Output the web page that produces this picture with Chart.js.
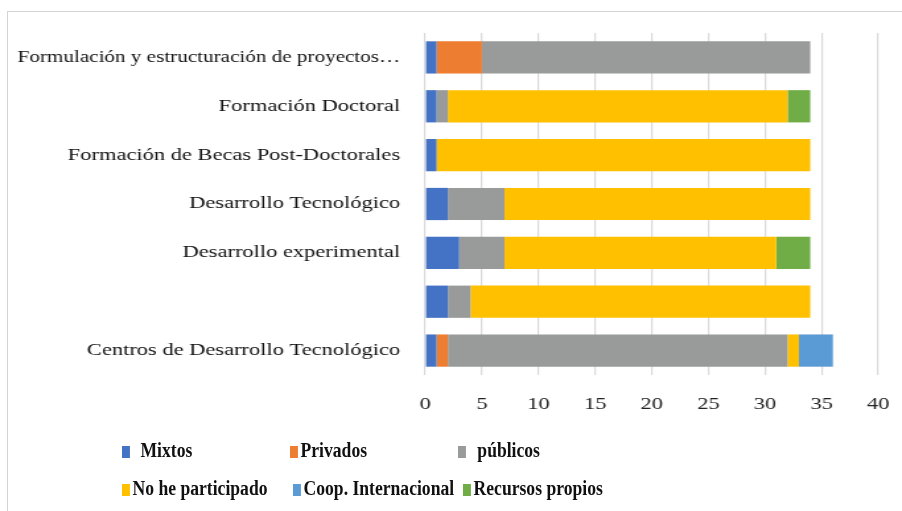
<!DOCTYPE html>
<html>
<head>
<meta charset="utf-8">
<script src="https://cdn.jsdelivr.net/npm/chart.js@4.4.0/dist/chart.umd.min.js"></script>
<style>
  html, body { margin: 0; padding: 0; background: #fff; }
  #wrap { position: relative; width: 902px; height: 511px; overflow: hidden; }
  #frame { position: absolute; left: 7px; top: 11px; width: 1000px; height: 600px; border: 1px solid #d4d4d4; box-sizing: border-box; }
  /* the original's axis text is drawn wide, so the canvas is stretched sideways */
  canvas { position: absolute; left: 0; top: 0; transform-origin: 0 0; transform: scaleX(1.3206); }
  /* legend text in the original is tall and narrow */
  .lg { position: absolute; font: bold 20px "Liberation Serif", "Times New Roman", serif; color: #111; white-space: nowrap; line-height: 22px; transform-origin: 0 50%; transform: scaleX(0.88); }
  .lg i { display: inline-block; width: 9px; height: 12px; margin-right: 3px; vertical-align: -1px; }
</style>
</head>
<body>
<div id="wrap">
  <div id="frame"></div>
  <canvas id="c" width="683" height="511"></canvas>
  <div id="legend"></div>
</div>
<script>
const categories = [
  'Formulación y estructuración de proyectos…',
  'Formación Doctoral',
  'Formación de Becas Post-Doctorales',
  'Desarrollo Tecnológico',
  'Desarrollo experimental',
  '',
  'Centros de Desarrollo Tecnológico'
];
const seriesNames = ['Mixtos', 'Privados', 'públicos', 'No he participado', 'Coop. Internacional', 'Recursos propios'];
const seriesColors = ['#4472C4', '#ED7D31', '#999B9B', '#FFC000', '#5B9BD5', '#70AD47'];

const mixtos        = [1, 1, 1, 2, 3, 2, 1];
const privados      = [4, 0, 0, 0, 0, 0, 1];
const publicos      = [29, 1, 0, 5, 4, 2, 30];
const noParticipado = [0, 30, 33, 27, 24, 30, 1];
const coopIntl      = [0, 0, 0, 0, 0, 0, 3];
const recursos      = [0, 2, 0, 0, 3, 0, 0];

const xTicks = [0, 5, 10, 15, 20, 25, 30, 35, 40];

const seriesValues = [mixtos, privados, publicos, noParticipado, coopIntl, recursos];

const serif = '"Liberation Serif", "Times New Roman", serif';

new Chart(document.getElementById('c'), {
  type: 'bar',
  data: {
    labels: categories,
    datasets: seriesNames.map((name, i) => ({
      label: name,
      data: seriesValues[i],
      backgroundColor: seriesColors[i],
      borderWidth: 0,
      barPercentage: 0.66,
      categoryPercentage: 1
    }))
  },
  options: {
    indexAxis: 'y',
    responsive: false,
    animation: false,
    layout: { padding: { top: 33, right: 18, bottom: 96, left: 0 } },
    plugins: { legend: { display: false }, tooltip: { enabled: false } },
    scales: {
      x: {
        stacked: true,
        min: 0,
        max: 40,
        afterBuildTicks: s => { s.ticks = xTicks.map(v => ({ value: v })); },
        afterFit: s => { s.height = 40; s.paddingLeft = 0; s.paddingRight = 0; },
        grid: { color: '#d9d9d9', lineWidth: 1.2, drawTicks: false },
        border: { display: false },
        ticks: { color: '#222', padding: 19, font: { family: serif, size: 17 } }
      },
      y: {
        stacked: true,
        afterFit: s => { s.width = 322; },
        grid: { display: false },
        border: { display: false },
        ticks: {
          color: '#111', padding: 11, autoSkip: false,
          font: ctx => ({ family: serif, size: ctx.index === 0 ? 16 : 17 })
        }
      }
    }
  }
});

// legend laid out in three columns like the original
const legendPos = [
  [122, 439], [290, 439], [458, 439],
  [122, 477], [293, 477], [463, 477]
];
const legendPad = [9, 0, 10, 0, 0, 0];
const legendEl = document.getElementById('legend');
seriesNames.forEach((name, i) => {
  const d = document.createElement('div');
  d.className = 'lg';
  d.style.left = legendPos[i][0] + 'px';
  d.style.top = legendPos[i][1] + 'px';
  d.innerHTML = '<i style="background:' + seriesColors[i] + ';margin-right:' + (3 + legendPad[i]) + 'px"></i>' + name;
  legendEl.appendChild(d);
});
</script>
</body>
</html>
